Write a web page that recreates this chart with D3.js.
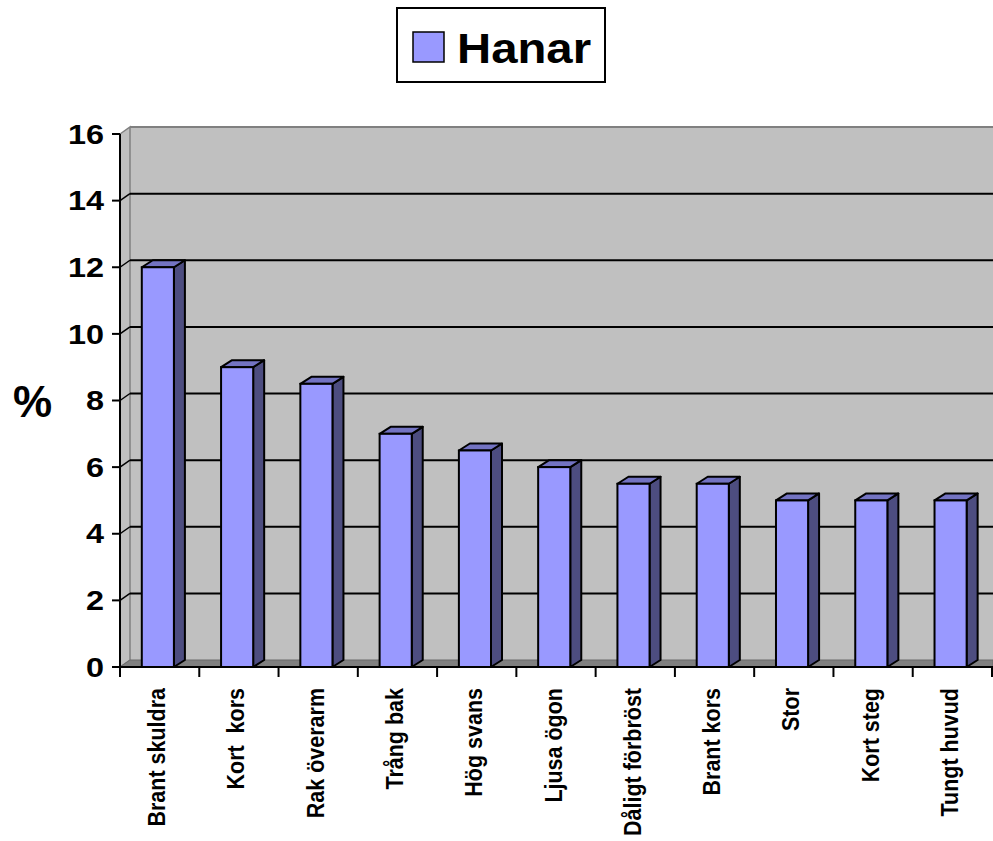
<!DOCTYPE html>
<html>
<head>
<meta charset="utf-8">
<script src="https://cdn.jsdelivr.net/npm/d3@7"></script>
<style>
  html, body { margin: 0; padding: 0; background: #ffffff; }
  svg { display: block; }
  text { font-family: "Liberation Sans", Arial, sans-serif; font-weight: bold; fill: #000; white-space: pre; }
</style>
</head>
<body>
<svg id="chart" width="993" height="841"></svg>
<script>
const categories = ["Brant skuldra", "Kort  kors", "Rak överarm", "Trång bak", "Hög svans", "Ljusa ögon", "Dåligt förbröst", "Brant kors", "Stor", "Kort steg", "Tungt huvud"];
const hanar = [12, 9, 8.5, 7, 6.5, 6, 5.5, 5.5, 5, 5, 5];
const yTicks = [0, 2, 4, 6, 8, 10, 12, 14, 16];
const seriesName = "Hanar";
const yTitle = "%";

const svg = d3.select("#chart");
const W = 993;

const x = d3.scaleBand().domain(categories).range([120, 992]).paddingInner(0).paddingOuter(0);
const y = d3.scaleLinear().domain([0, 16]).range([667, 134]);

const wdx = 10, wdy = -7;   // wall depth
const bdx = 11, bdy = -7;   // bar depth

const line = d3.line();

// back wall
svg.append("path")
  .attr("d", line([[120 + wdx, y(16) + wdy], [W, y(16) + wdy], [W, y(0) + wdy], [120 + wdx, y(0) + wdy]]) + "Z")
  .attr("fill", "#c0c0c0");
// left side wall
svg.append("path")
  .attr("d", line([[120, y(16)], [120 + wdx, y(16) + wdy], [120 + wdx, y(0) + wdy], [120, y(0)]]) + "Z")
  .attr("fill", "#c0c0c0").attr("stroke", "#808080").attr("stroke-width", 1.5);
// top edge of back wall
svg.append("line")
  .attr("x1", 120 + wdx).attr("x2", W).attr("y1", y(16) + wdy).attr("y2", y(16) + wdy)
  .attr("stroke", "#808080").attr("stroke-width", 2);
// floor
svg.append("path")
  .attr("d", line([[120, y(0)], [120 + wdx, y(0) + wdy], [W, y(0) + wdy], [W, y(0)]]) + "Z")
  .attr("fill", "#808080").attr("stroke", "#6a6a6a").attr("stroke-width", 1);

// gridlines
const gridVals = yTicks.filter(t => t > 0 && t < 16);
const g = svg.append("g");
gridVals.forEach(t => {
  g.append("line")
    .attr("x1", 120 + wdx).attr("x2", W).attr("y1", y(t) + wdy).attr("y2", y(t) + wdy)
    .attr("stroke", "#000").attr("stroke-width", 2);
  g.append("line")
    .attr("x1", 120).attr("x2", 120 + wdx).attr("y1", y(t)).attr("y2", y(t) + wdy)
    .attr("stroke", "#000").attr("stroke-width", 1.5);
});

// bars
const bw = x.bandwidth();
const barW = bw * 0.405;
const barOff = bw * 0.275;
const bars = svg.append("g");
categories.forEach((c, i) => {
  const v = hanar[i];
  const x0 = x(c) + barOff, x1 = x0 + barW;
  const yt = y(v), yb = y(0);
  bars.append("path")
    .attr("d", line([[x1, yt], [x1 + bdx, yt + bdy], [x1 + bdx, yb + bdy], [x1, yb]]) + "Z")
    .attr("fill", "#4d4d80").attr("stroke", "#000").attr("stroke-width", 2).attr("stroke-linejoin", "round");
  bars.append("path")
    .attr("d", line([[x0, yt], [x0 + bdx, yt + bdy], [x1 + bdx, yt + bdy], [x1, yt]]) + "Z")
    .attr("fill", "#7373c2").attr("stroke", "#000").attr("stroke-width", 2).attr("stroke-linejoin", "round");
  bars.append("rect")
    .attr("x", x0).attr("y", yt).attr("width", barW).attr("height", yb - yt)
    .attr("fill", "#9999ff").attr("stroke", "#000").attr("stroke-width", 2);
});

// y axis
svg.append("line").attr("x1", 120).attr("x2", 120).attr("y1", y(16)).attr("y2", y(0))
  .attr("stroke", "#000").attr("stroke-width", 2);
yTicks.forEach(t => {
  svg.append("line").attr("x1", 112).attr("x2", 120).attr("y1", y(t)).attr("y2", y(t))
    .attr("stroke", "#000").attr("stroke-width", 2);
  svg.append("text")
    .attr("transform", `translate(104,${y(t)}) scale(1.2,1)`)
    .attr("text-anchor", "end").attr("dy", "0.36em")
    .style("font-size", "27px")
    .text(t);
});

// x axis
svg.append("line").attr("x1", 120).attr("x2", W).attr("y1", y(0)).attr("y2", y(0))
  .attr("stroke", "#000").attr("stroke-width", 2);
const tickXs = categories.map(c => x(c)).concat([x(categories[categories.length - 1]) + bw]);
tickXs.forEach(tx => {
  svg.append("line").attr("x1", tx).attr("x2", tx).attr("y1", y(0)).attr("y2", y(0) + 10)
    .attr("stroke", "#000").attr("stroke-width", 2);
});
categories.forEach(c => {
  svg.append("text")
    .attr("transform", `translate(${x(c) + bw / 2 + 5.5},688) rotate(-90) scale(1,1.12)`)
    .attr("text-anchor", "end")
    .style("font-size", "21.5px")
    .text(c);
});

// y title
svg.append("text").attr("x", 13).attr("y", 417).style("font-size", "44px").text(yTitle);

// legend
svg.append("rect").attr("x", 397).attr("y", 8).attr("width", 208).attr("height", 74)
  .attr("fill", "#fff").attr("stroke", "#000").attr("stroke-width", 2);
svg.append("rect").attr("x", 413).attr("y", 32).attr("width", 31).attr("height", 30)
  .attr("fill", "#9999ff").attr("stroke", "#000").attr("stroke-width", 1.5);
svg.append("text").attr("transform", "translate(457,63) scale(1.1,1)")
  .style("font-size", "43px").text(seriesName);
</script>
</body>
</html>
